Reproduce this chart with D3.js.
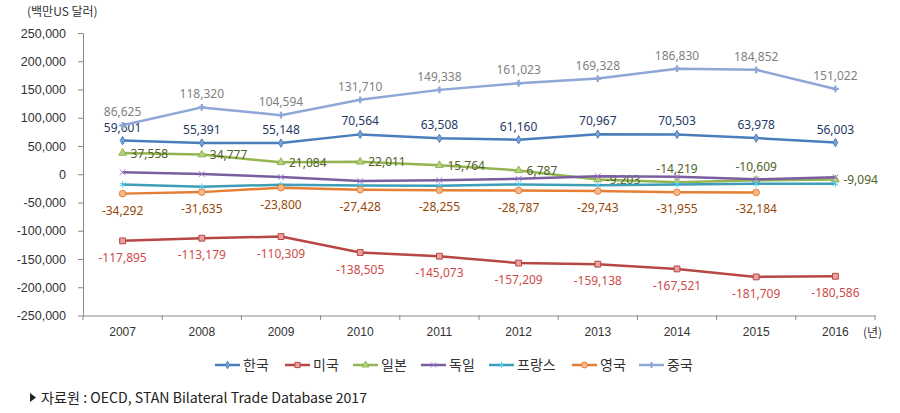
<!DOCTYPE html>
<html><head><meta charset="utf-8">
<script src="https://cdn.jsdelivr.net/npm/d3@7/dist/d3.min.js"></script>
<style>
body{margin:0;background:#fff;}
svg{display:block;font-family:"Noto Sans","Noto Sans CJK KR",sans-serif;}
</style></head>
<body><svg id="c" width="900" height="413"></svg>
<script>
const years = ["2007","2008","2009","2010","2011","2012","2013","2014","2015","2016"];
const korea   = [59601,55391,55148,70564,63508,61160,70967,70503,63978,56003];
const usa     = [-117895,-113179,-110309,-138505,-145073,-157209,-159138,-167521,-181709,-180586];
const japan   = [37558,34777,21084,22011,15764,6787,-9203,-14219,-10609,-9094];
const germany = [3500,500,-5000,-12000,-10500,-8000,-3500,-4500,-9000,-5500];
const france  = [-18000,-22000,-18500,-20000,-20500,-18000,-19500,-18000,-17000,-17000];
const uk      = [-34292,-31635,-23800,-27428,-28255,-28787,-29743,-31955,-32184,null];
const china   = [86625,118320,104594,131710,149338,161023,169328,186830,184852,151022];
const yTicks  = [250000,200000,150000,100000,50000,0,-50000,-100000,-150000,-200000,-250000];
const names   = ["한국","미국","일본","독일","프랑스","영국","중국"];

// styles (kept separate from data)
const series = [
  {name:names[0], vals:korea,   line:"#4A7EBB", mk:"diamond", fill:"#7FA3D3", lab:"#1F3864", pos:"above"},
  {name:names[1], vals:usa,     line:"#B84642", mk:"square",  fill:"#E6A3A1", lab:"#D04A48", pos:"below"},
  {name:names[2], vals:japan,   line:"#93B551", mk:"triangle",fill:"#B7D27F", lab:"#4F6228", pos:"jp"},
  {name:names[3], vals:germany, line:"#7B5EA0", mk:"x",       fill:"none",    lab:null,      pos:null},
  {name:names[4], vals:france,  line:"#3E9EB8", mk:"star",    fill:"none",    lab:null,      pos:null},
  {name:names[5], vals:uk,      line:"#E47F34", mk:"circle",  fill:"#F9B98A", lab:"#984807", pos:"below"},
  {name:names[6], vals:china,   line:"#8EA7D6", mk:"plus",    fill:"none",    lab:"#7F7F7F", pos:"above"}
];
const jpPos = ["right","right","right","right","right","right","right","above","above","right"];

const svg = d3.select("#c");
const x = d3.scaleBand().domain(years).range([83,875]);
const y = d3.scaleLinear().domain([-250000,250000]).range([315.5,33]);
const cx = d => x(d)+x.bandwidth()/2;
const fmt = v => (v<0?"-":"") + d3.format(",")(Math.abs(v));

// Y axis
const ya = svg.append("g").attr("transform","translate(83,0)")
  .call(d3.axisLeft(y).tickValues(yTicks).tickSize(5).tickSizeOuter(0).tickFormat(fmt));
ya.select(".domain").attr("stroke","#888");
ya.selectAll(".tick line").attr("stroke","#888");
ya.selectAll(".tick text").attr("fill","#333").attr("font-size",12.5).attr("x",-17);

// X axis
const xa = svg.append("g").attr("transform","translate(0,315.5)")
  .call(d3.axisBottom(x).tickSize(0).tickSizeOuter(0));
xa.select(".domain").attr("stroke","#888");
xa.selectAll(".tick text").attr("fill","#333").attr("font-size",12).attr("dy","1.05em").attr("y",8);
const bounds = years.map(d=>x(d)).concat([x.range()[1]]);
svg.append("g").selectAll("line").data(bounds).join("line")
  .attr("x1",d=>d).attr("x2",d=>d).attr("y1",315.5).attr("y2",320).attr("stroke","#888");

svg.append("text").attr("x",863).attr("y",337).attr("font-size",12).attr("fill","#333")
  .attr("font-family","Noto Sans CJK KR").text("(년)");
svg.append("text").attr("x",27).attr("y",16).attr("font-size",12).attr("fill","#333")
  .attr("font-family","Noto Sans CJK KR").text("(백만US 달러)");

const symMap = {diamond:d3.symbolDiamond, square:d3.symbolSquare, triangle:d3.symbolTriangle,
             circle:d3.symbolCircle, x:d3.symbolX, plus:d3.symbolCross, star:d3.symbolAsterisk};
const sizes = {diamond:20, square:34, triangle:26, circle:34, x:24, plus:26, star:30};

function drawMarker(g, s, scale){
  const p = g.append("path").attr("d", d3.symbol().type(symMap[s.mk]).size(sizes[s.mk]*scale)());
  if (s.mk==="x" || s.mk==="star") p.attr("fill","none").attr("stroke",d3.color(s.line).brighter(0.7)).attr("stroke-width",1);
  else if (s.mk==="plus") p.attr("fill",s.line).attr("stroke","none");
  else p.attr("fill",s.fill).attr("stroke",s.line).attr("stroke-width",1);
}

const line = d3.line().defined(d=>d.v!==null).x(d=>cx(d.yr)).y(d=>y(d.v));

series.forEach((s,si)=>{
  const pts = years.map((yr,i)=>({yr, v:s.vals[i], i}));
  svg.append("path").datum(pts).attr("d",line).attr("fill","none")
    .attr("stroke",s.line).attr("stroke-width",2.5).attr("stroke-linejoin","round");
  const mg = svg.append("g");
  pts.filter(d=>d.v!==null).forEach(d=>{
    const g = mg.append("g").attr("transform",`translate(${cx(d.yr)},${y(d.v)})`);
    drawMarker(g, s, 1);
  });
  if (s.lab) {
    const lg = svg.append("g").attr("font-size",12).attr("fill",s.lab);
    pts.filter(d=>d.v!==null).forEach(d=>{
      let pos = s.pos==="jp" ? jpPos[d.i] : s.pos;
      const px = cx(d.yr), py = y(d.v);
      const t = lg.append("text").text(fmt(d.v));
      if (pos==="above") t.attr("x",px).attr("y",py-9).attr("text-anchor","middle");
      else if (pos==="below") t.attr("x",px).attr("y",py+21).attr("text-anchor","middle");
      else t.attr("x",px+8).attr("y",py+4.5).attr("text-anchor","start");
    });
  }
});

// Legend
const legX = [215,285,353,421,489,572,639];
const lg = svg.append("g").attr("font-family","Noto Sans CJK KR");
series.forEach((s,i)=>{
  const g = lg.append("g").attr("transform",`translate(${legX[i]},365)`);
  g.append("line").attr("x1",0).attr("x2",25).attr("stroke",s.line).attr("stroke-width",2.5);
  const mg = g.append("g").attr("transform","translate(12.5,0)");
  drawMarker(mg, s, 0.8);
  g.append("text").attr("x",28).attr("y",5).attr("font-size",14).attr("fill","#333").text(s.name);
});

// Source
svg.append("path").attr("d","M30,393 L36,397.5 L30,402 Z").attr("fill","#222");
svg.append("text").attr("x",41).attr("y",403).attr("font-size",14).attr("fill","#222")
  .attr("font-family","Noto Sans CJK KR").attr("textLength",326).attr("lengthAdjust","spacingAndGlyphs")
  .text("자료원 : OECD, STAN Bilateral Trade Database 2017");
</script></body></html>
